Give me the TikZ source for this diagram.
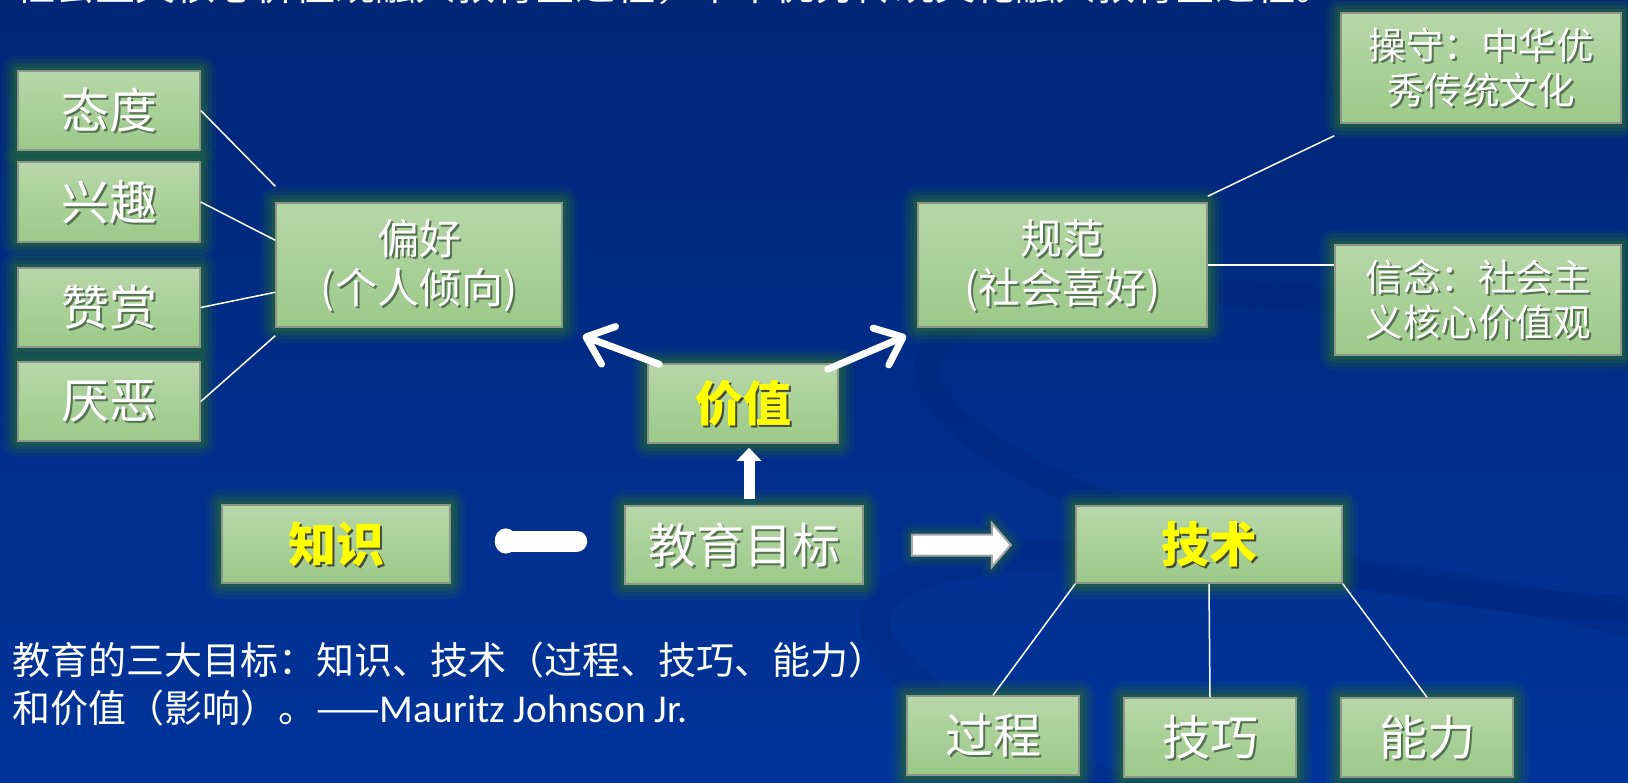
\documentclass[tikz,border=0pt]{standalone}
\usepackage{fontspec}
\setmainfont{Noto Sans CJK SC}
\newfontfamily\latinfont{Carlito}
\usetikzlibrary{calc,arrows.meta}
\pgfdeclarelayer{bglayer}
\pgfdeclarelayer{glowlayer}
\pgfsetlayers{bglayer,glowlayer,main}
\definecolor{bgtop}{RGB}{0,38,118}
\definecolor{bgmid}{RGB}{0,50,148}
\definecolor{bgbot}{RGB}{0,52,155}
\definecolor{swoosh}{RGB}{0,36,120}
\definecolor{boxtop}{RGB}{183,215,168}
\definecolor{boxbot}{RGB}{156,201,137}
\definecolor{boxline}{RGB}{140,150,140}
\definecolor{glowc}{RGB}{36,100,62}
\definecolor{wshadow}{RGB}{85,115,80}
\definecolor{yshadow}{RGB}{70,75,60}
\definecolor{yel}{RGB}{255,255,0}
\definecolor{arrowline}{RGB}{165,165,165}
\tikzset{
  gbox/.style={draw=boxline, line width=1.5pt, top color=boxtop, bottom color=boxbot, inner sep=0pt},
  wbig/.style={text=white, font=\fontsize{48}{52}\selectfont, inner sep=0pt},
  wmid/.style={text=white, font=\fontsize{42}{49}\selectfont, align=center, inner sep=0pt},
  wsmall/.style={text=white, font=\fontsize{37.5}{45}\selectfont, align=center, inner sep=0pt},
  ybold/.style={text=yel, font=\fontsize{48}{52}\selectfont\bfseries, inner sep=0pt},
  thinline/.style={draw=white, line width=1.5pt},
  fatarrow/.style={draw=white, line width=7pt, line cap=round, line join=round,
    -{Straight Barb[length=24pt, width=40pt, round]}},
}
% name, x, y, w, h, text style, text, shadow colour
\newcommand\gbox[8]{%
  \node[gbox, minimum width=#4pt, minimum height=#5pt] (#1) at (#2,#3) {};
  \begin{pgfonlayer}{glowlayer}
    \foreach \gr/\go in {15/0.14,11/0.22,7/0.32,3.5/0.45}{%
      \fill[glowc, opacity=\go, rounded corners=\gr pt]
        ($(#1.south west)+(-\gr pt,-\gr pt)$) rectangle ($(#1.north east)+(\gr pt,\gr pt)$);}
  \end{pgfonlayer}
  \node[#6, text=#8] (#1s) at ($(#1)+(2pt,-2pt)$) {#7};
  \node[#6] (#1t) at (#1) {#7};
}
\begin{document}
\begin{tikzpicture}[x=1pt,y=-1pt]
\useasboundingbox (0,0) rectangle (1628,782);
\begin{pgfonlayer}{bglayer}
  \shade[top color=bgtop, middle color=bgmid, bottom color=bgbot] (0,0) rectangle (1628,782);
  \begin{scope}
    \clip (0,0) rectangle (1628,782);
    \draw[swoosh, line width=26pt, opacity=0.35, rotate around={-10:(1420,450)}]
      (1420,450) ellipse [x radius=500pt, y radius=135pt];
    \draw[swoosh, line width=30pt, opacity=0.25, rotate around={-12:(1560,760)}]
      (1560,760) ellipse [x radius=700pt, y radius=150pt];
  \end{scope}
\end{pgfonlayer}

% cut-off title line at the top (only its lowest sliver shows)
\begin{scope}
  \clip (0,0) rectangle (1628,782);
  \node[anchor=south west, text=white, font=\fontsize{40}{40}\selectfont, inner sep=0pt] (toptext) at (15,5)
    {社会主义核心价值观融入教育全过程，中华优秀传统文化融入教育全过程。};
\end{scope}

% boxes
\gbox{taidu}{109}{110.5}{182}{79}{wbig}{态度}{wshadow}
\gbox{xingqu}{109}{202}{182}{80}{wbig}{兴趣}{wshadow}
\gbox{zanshang}{109}{307.5}{182}{79}{wbig}{赞赏}{wshadow}
\gbox{yanwu}{109}{401.5}{182}{79}{wbig}{厌恶}{wshadow}
\gbox{pianhao}{419}{265}{286}{124}{wmid}{偏好\\(个人倾向)}{wshadow}
\gbox{guifan}{1062.5}{265}{289}{124}{wmid}{规范\\(社会喜好)}{wshadow}
\gbox{caoshou}{1481}{68}{280}{110}{wsmall}{操守：中华优\\秀传统文化}{wshadow}
\gbox{xinnian}{1478}{300}{286}{110}{wsmall}{信念：社会主\\义核心价值观}{wshadow}
\gbox{jiazhi}{743}{403.5}{190}{79}{ybold}{价值}{yshadow}
\gbox{zhishi}{336}{544}{228}{78}{ybold}{知识}{yshadow}
\gbox{goal}{744}{545}{238}{78}{wbig}{教育目标}{wshadow}
\gbox{jishu}{1209}{544.5}{266}{77}{ybold}{技术}{yshadow}
\gbox{guocheng}{993}{735.5}{172}{79}{wbig}{过程}{wshadow}
\gbox{jiqiao}{1210}{737.5}{172}{79}{wbig}{技巧}{wshadow}
\gbox{nengli}{1427}{737.5}{172}{79}{wbig}{能力}{wshadow}

% thin connectors
\draw[thinline] (taidu.east) -- ($(pianhao.north west)+(0pt,16pt)$);
\draw[thinline] (xingqu.east) -- ($(pianhao.north west)+(0pt,-38pt)$);
\draw[thinline] (zanshang.east) -- ($(pianhao.north west)+(0pt,-90pt)$);
\draw[thinline] (yanwu.east) -- ($(pianhao.south west)+(0pt,-8pt)$);
\draw[thinline] ($(guifan.north east)+(0pt,6pt)$) -- ($(caoshou.south west)+(-6pt,-12pt)$);
\draw[thinline] (guifan.east) -- (guifan.east -| xinnian.west);
\draw[thinline] (jishu.south west) -- (guocheng.north);
\draw[thinline] (jishu.south) -- (jiqiao.north);
\draw[thinline] (jishu.south east) -- (nengli.north);

% white arrows from value
\draw[fatarrow] ($(jiazhi.north west)+(12pt,-1pt)$) -- ($(pianhao.south east)+(20pt,-8pt)$);
\draw[fatarrow] ($(jiazhi.north east)+(-11pt,-6pt)$) -- ($(guifan.south west)+(-11pt,-8pt)$);
\draw[white, line width=11pt, -{Triangle[length=13pt, width=24pt]}]
  ($(goal.north)+(5pt,6pt)$) -- ($(jiazhi.south)+(6pt,-4pt)$);
\draw[white, line width=21pt, line cap=round, -{Ellipse[length=22pt, width=25pt]}]
  ($(goal.west)+(-47.5pt,4pt)$) -- ($(zhishi.east)+(44pt,3pt)$);

% block arrow to technique
\begin{scope}[shift={(goal.east)}]
  \begin{pgfonlayer}{glowlayer}
    \foreach \gr/\go in {22/0.14,14/0.22,7/0.32}{%
      \draw[glowc, opacity=\go, line width=\gr pt, line join=round]
        (48,-10.5) -- (128,-10.5) -- (128,-22) -- (147,0) -- (128,22) -- (128,10.5) -- (48,10.5) -- cycle;}
  \end{pgfonlayer}
  \draw[draw=arrowline, fill=white, line width=2pt]
    (48,-10.5) -- (128,-10.5) -- (128,-22) -- (147,0) -- (128,22) -- (128,10.5) -- (48,10.5) -- cycle;
\end{scope}

% quotation
\node[anchor=west, text=white, align=left, font=\fontsize{38}{48}\selectfont, inner sep=0pt] (note) at (12,684)
  {教育的三大目标：知识、技术（过程、技巧、能力）\\和价值（影响）。——{\latinfont\fontsize{39.5}{48}\selectfont Mauritz Johnson Jr.}};
\end{tikzpicture}
\end{document}
